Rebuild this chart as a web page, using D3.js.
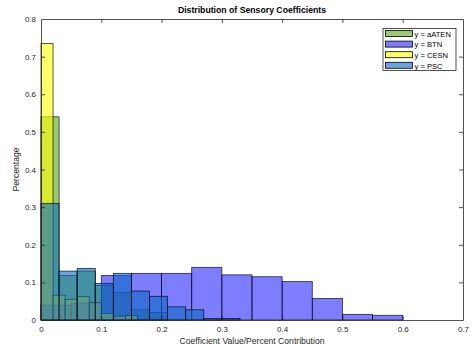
<!DOCTYPE html>
<html><head><meta charset="utf-8">
<script src="https://cdn.jsdelivr.net/npm/d3@7"></script>
<style>body{margin:0;background:#fff}svg{display:block;font-family:"Liberation Sans",Arial,sans-serif}</style>
</head><body><svg id="c" width="472" height="347"></svg>
<script>
// ---- data ----
const seriesNames = ["y = aATEN", "y = BTN", "y = CESN", "y = PSC"];
const aatenStart = 0, aatenWidth = 0.03;
const aatenValues = [0.54, 0.118, 0.13, 0.092, 0.073, 0.027, 0.02];
const btnStart = 0, btnWidth = 0.05;
const btnValues = [0.04, 0.045, 0.118, 0.124, 0.124, 0.14, 0.12, 0.115, 0.102, 0.057, 0.015, 0.0125];
const cesnStart = 0, cesnWidth = 0.02;
const cesnValues = [0.735, 0.066, 0.055, 0.062, 0.047, 0.017, 0.01, 0.012];
const pscStart = 0, pscWidth = 0.03;
const pscValues = [0.31, 0.13, 0.137, 0.097, 0.124, 0.077, 0.063, 0.035, 0.027, 0.004, 0.004];
const xTicks = [0, 0.1, 0.2, 0.3, 0.4, 0.5, 0.6, 0.7];
const yTicks = [0, 0.1, 0.2, 0.3, 0.4, 0.5, 0.6, 0.7, 0.8];
const colors = ["rgb(85,170,20)", "rgb(38,38,255)", "rgb(255,255,0)", "rgb(10,105,195)"];

const series = [
  {name: seriesNames[0], start: aatenStart, width: aatenWidth, values: aatenValues, color: colors[0]},
  {name: seriesNames[1], start: btnStart, width: btnWidth, values: btnValues, color: colors[1]},
  {name: seriesNames[2], start: cesnStart, width: cesnWidth, values: cesnValues, color: colors[2]},
  {name: seriesNames[3], start: pscStart, width: pscWidth, values: pscValues, color: colors[3]}
];

const svg = d3.select("#c");
const L = 41, R = 463, T = 19, B = 320;
const x = d3.scaleLinear().domain([0, 0.7]).range([L, R]);
const y = d3.scaleLinear().domain([0, 0.8]).range([B, T]);
const axisCol = "#262626";

// bars
series.forEach(s => {
  const bins = s.values.map((v, i) => ({x0: s.start + i * s.width, x1: s.start + (i + 1) * s.width, v}));
  svg.append("g").selectAll("rect").data(bins).join("rect")
    .attr("x", d => x(d.x0)).attr("width", d => x(d.x1) - x(d.x0))
    .attr("y", d => y(d.v)).attr("height", d => y(0) - y(d.v))
    .attr("fill", s.color).attr("fill-opacity", 0.6)
    .attr("stroke", "#000").attr("stroke-opacity", 0.8).attr("stroke-width", 0.8);
});

// axes
const fmt = d => d === 0 ? "0" : d3.format(".1f")(d);
const gx = svg.append("g").attr("transform", `translate(0,${B})`)
  .call(d3.axisBottom(x).tickValues(xTicks).tickFormat(fmt).tickSizeInner(-4).tickSizeOuter(0).tickPadding(6));
const gxt = svg.append("g").attr("transform", `translate(0,${T})`)
  .call(d3.axisTop(x).tickValues(xTicks).tickFormat("").tickSizeInner(-4).tickSizeOuter(0));
const gy = svg.append("g").attr("transform", `translate(${L},0)`)
  .call(d3.axisLeft(y).tickValues(yTicks).tickFormat(fmt).tickSizeInner(-4).tickSizeOuter(0).tickPadding(5));
const gyr = svg.append("g").attr("transform", `translate(${R},0)`)
  .call(d3.axisRight(y).tickValues(yTicks).tickFormat("").tickSizeInner(-4).tickSizeOuter(0));
[gx, gxt, gy, gyr].forEach(g => {
  g.select(".domain").attr("stroke", axisCol).attr("stroke-width", 0.8);
  g.selectAll(".tick line").attr("stroke", axisCol).attr("stroke-width", 0.8);
  g.selectAll("text").attr("fill", axisCol).attr("font-size", 8).attr("font-family", "Liberation Sans, Arial, sans-serif");
});
gy.selectAll(".tick").filter(d => d === 0.8 || d === 0).select("line").remove();
gx.selectAll(".tick").filter(d => d === 0 || d === 0.7).select("line").remove();
gxt.selectAll(".tick").filter(d => d === 0 || d === 0.7).select("line").remove();
gyr.selectAll(".tick").filter(d => d === 0.8 || d === 0).select("line").remove();

// title & labels
svg.append("text").attr("x", (L + R) / 2).attr("y", 13).attr("text-anchor", "middle")
  .attr("font-size", 8.7).attr("font-weight", "bold").attr("fill", "#000").text("Distribution of Sensory Coefficients");
svg.append("text").attr("x", (L + R) / 2).attr("y", 344).attr("text-anchor", "middle")
  .attr("font-size", 8.6).attr("fill", axisCol).text("Coefficient Value/Percent Contribution");
svg.append("text").attr("transform", `translate(19,${(T + B) / 2}) rotate(-90)`).attr("text-anchor", "middle")
  .attr("font-size", 8.6).attr("fill", axisCol).text("Percentage");

// legend
const lg = svg.append("g").attr("transform", "translate(383,28.5)");
lg.append("rect").attr("width", 73).attr("height", 42).attr("fill", "#fff").attr("stroke", axisCol).attr("stroke-width", 0.8);
series.forEach((s, i) => {
  const row = lg.append("g").attr("transform", `translate(2.5,${2 + i * 10.6})`);
  row.append("rect").attr("width", 27).attr("height", 6).attr("y", 0)
    .attr("fill", s.color).attr("fill-opacity", 0.6).attr("stroke", "#000").attr("stroke-width", 0.8);
  row.append("text").attr("x", 29).attr("y", 6.2).attr("font-size", 7.6).attr("fill", "#000").text(s.name);
});
</script></body></html>
